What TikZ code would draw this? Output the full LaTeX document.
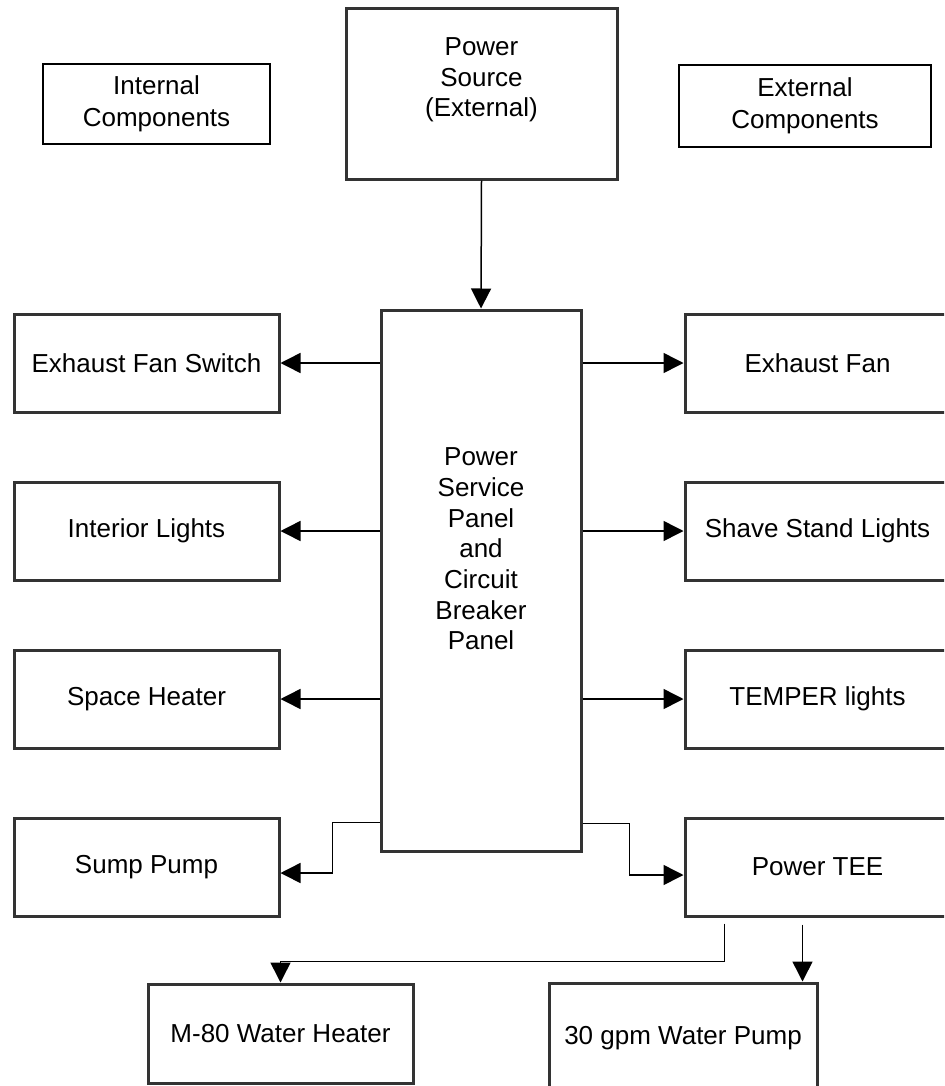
\documentclass[tikz,border=0pt]{standalone}
\usepackage{fontspec}
\setmainfont{Liberation Sans}
\usetikzlibrary{arrows.meta,calc}
\definecolor{boxgray}{HTML}{333333}

\begin{document}
\begin{tikzpicture}[x=0.5pt, y=-0.5pt,
        every node/.style={font=\fontsize{13}{15.35}\selectfont},
        part/.style={draw=boxgray, line width=1.5pt, minimum width=132.5pt, minimum height=49pt, inner sep=0pt},
        keybox/.style={draw, line width=1pt, align=center, font=\fontsize{13}{16}\selectfont},
        feed/.style={-{Triangle[length=10pt,width=10pt]}, line width=0.75pt}]
        \clip (0,0) rectangle (944,1086);

        % Legend
        \node[keybox, minimum width=113.5pt, minimum height=40pt] (intl) at (156.5,104) {Internal\\Components};
        \node[keybox, minimum width=126pt, minimum height=41pt] (extl) at (805,106) {External\\Components};

        % Source and panel
        \node[part, minimum width=135.5pt, minimum height=85pt] (source) at (481.5,94) {};
        \node[align=center] (sourcetext) at (481.5,80) {Power\\Source\\(External)};
        \node[part, minimum width=100pt, minimum height=270.5pt] (panel) at (481,580.5) {};
        \node[align=center] (paneltext) at (481,549) {Power\\Service\\Panel\\and\\Circuit\\Breaker\\Panel};

        % Internal side
        \node[part] (fanswitch) at (146.5,363) {Exhaust Fan Switch};
        \node[part] (lights) at (146.5,531) {Interior Lights};
        \node[part] (heater) at (146.5,699) {Space Heater};
        \node[part] (sump) at (146.5,867) {Sump Pump};

        % External side
        \node[part] (fan) at (817.5,363) {Exhaust Fan};
        \node[part] (shave) at (817.5,531) {Shave Stand Lights};
        \node[part] (temper) at (817.5,699) {TEMPER lights};
        \node[part] (tee) at (817.5,867) {Power TEE};
        \node[part, minimum height=49.5pt] (m80) at (280.5,1033.5) {M-80 Water Heater};
        \node[part, minimum width=134pt, minimum height=55pt] (pump) at (683,1038) {30 gpm Water Pump};

        % Feeds
        \draw[feed] (source.south) -- (panel.north);
        \draw[feed] (panel.west |- fanswitch.east) -- (fanswitch.east);
        \draw[feed] (panel.west |- lights.east) -- (lights.east);
        \draw[feed] (panel.west |- heater.east) -- (heater.east);
        \draw[feed] ($(panel.south west)+(0,-30)$) -- ++(-47,0) |- ($(sump.east)+(0,6)$);
        \draw[feed] (panel.east |- fan.west) -- (fan.west);
        \draw[feed] (panel.east |- shave.west) -- (shave.west);
        \draw[feed] (panel.east |- temper.west) -- (temper.west);
        \draw[feed] ($(panel.south east)+(0,-29)$) -- ++(47,0) |- ($(tee.west)+(0,8)$);

        % Power TEE outputs
        \draw[feed] ($(tee.south west)+(41,6)$) -- ++(0,38) -| (m80.north);
        \coordinate (pumpfeed) at ($(tee.south west)+(119,7)$);
        \draw[feed] (pumpfeed) -- (pumpfeed |- pump.north);
    \end{tikzpicture}
\end{document}
